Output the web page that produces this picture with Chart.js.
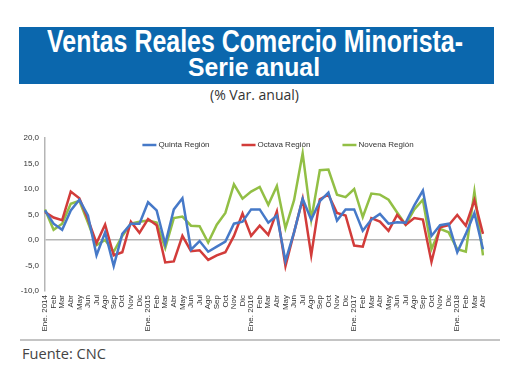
<!DOCTYPE html>
<html><head><meta charset="utf-8">
<script src="https://cdn.jsdelivr.net/npm/chart.js@4"></script>
<style>
html,body{margin:0;padding:0;background:#fff;width:520px;height:390px;overflow:hidden;position:relative;}
#banner{position:absolute;left:19px;top:27px;width:475px;height:57px;background:#0b67ad;}
.fit{position:absolute;white-space:nowrap;display:inline-block;transform-origin:0 0;}
#t1,#t2{color:#fff;font-family:"Liberation Sans Narrow","Liberation Sans",Arial,sans-serif;font-weight:bold;line-height:1;}
#t1{font-size:32px;top:25px;}
#t2{font-size:26px;top:54px;}
#sub{font-family:"Open Sans","Noto Sans",sans-serif;font-weight:400;font-size:14px;line-height:14px;color:#333;top:88px;}
#rule{position:absolute;left:20px;top:339px;width:480px;height:2px;background:#c4c4c4;}
#src{position:absolute;left:22px;top:345px;font-family:"Open Sans","Noto Sans",sans-serif;font-weight:400;font-size:15px;line-height:16px;color:#444;}
#wrap{position:absolute;left:0;top:125px;width:520px;height:214px;}
</style></head>
<body>
<div id="banner"></div>
<span id="t1" class="fit" data-w="416" data-cx="255">Ventas Reales Comercio Minorista-</span>
<span id="t2" class="fit" data-w="132" data-cx="254">Serie anual</span>
<span id="sub" class="fit" data-w="89" data-cx="254">(% Var. anual)</span>
<div id="rule"></div>
<div id="src" class="fit" data-w="84" data-left="22">Fuente: CNC</div>
<div id="wrap"><canvas id="c"></canvas></div>
<script>
const categories = ['Ene. 2014','Feb','Mar','Abr','May','Jun','Jul','Ago','Sep','Oct','Nov','Dic',
  'Ene. 2015','Feb','Mar','Abr','May','Jun','Jul','Ago','Sep','Oct','Nov','Dic',
  'Ene. 2016','Feb','Mar','Abr','May','Jun','Jul','Ago','Sep','Oct','Nov','Dic',
  'Ene. 2017','Feb','Mar','Abr','May','Jun','Jul','Ago','Sep','Oct','Nov','Dic',
  'Ene. 2018','Feb','Mar','Abr'];
const quinta = [5.8,3.2,2.0,5.8,7.9,4.8,-3.0,1.5,-5.1,1.2,3.2,3.2,
  7.4,5.8,-0.8,6.0,8.2,-1.9,-0.2,-2.3,-1.3,-0.3,3.2,3.6,
  6.0,6.0,3.4,4.8,-4.1,1.5,8.1,4.0,7.6,9.3,3.8,6.0,
  6.0,1.8,4.0,5.1,3.2,3.5,3.4,6.8,9.7,0.8,2.9,3.2,
  -2.4,1.2,5.3,-1.8];
const octava = [5.5,4.4,3.9,9.5,8.2,4.1,-0.6,3.0,-3.0,-2.4,3.6,1.4,
  4.1,2.9,-4.4,-4.2,0.8,-2.2,-2.0,-3.9,-3.0,-2.4,0.8,5.2,
  0.8,2.8,1.0,5.6,-5.1,1.5,8.1,-3.0,8.0,8.9,5.3,4.8,
  -1.1,-1.3,4.3,3.6,1.8,4.9,3.0,4.3,4.0,-4.3,2.5,2.9,
  4.9,2.8,7.8,1.2];
const novena = [6.0,2.0,3.2,7.1,7.7,3.4,-1.0,0.0,-2.3,0.8,3.2,3.6,
  3.8,3.4,-1.6,4.3,4.6,2.8,2.7,-0.5,3.0,5.3,10.9,8.1,
  9.5,10.4,6.9,10.6,2.3,7.8,17.0,4.0,13.7,13.8,8.9,8.4,
  10.0,4.5,9.1,8.9,7.9,5.4,3.0,6.0,7.9,-1.8,2.2,1.5,
  -1.8,-2.3,9.5,-3.0];
const seriesNames = ['Quinta Región','Octava Región','Novena Región'];
const yTicks = [-10,-5,0,5,10,15,20];

// fit texts horizontally
document.querySelectorAll('.fit').forEach(el=>{
  const w = el.getBoundingClientRect().width;
  const tw = +el.dataset.w;
  const s = tw / w;
  if (el.dataset.left) el.style.left = el.dataset.left + 'px';
  else el.style.left = (+el.dataset.cx - tw/2) + 'px';
  el.style.transform = 'scaleX(' + s + ')';
});

const colors = ['#4679c8','#d23c3a','#92bf45'];
const legendPlugin = {
  id:'legendOverlay',
  afterDraw(chart){
    const ctx = chart.ctx;
    ctx.save();
    ctx.font = '8px "Liberation Sans", Arial, sans-serif';
    ctx.textBaseline = 'middle';
    const lineLen = 14, gapT = 2, gapI = 32;
    const widths = seriesNames.map(n=>ctx.measureText(n).width);
    const total = widths.reduce((a,b)=>a+b,0) + 3*(lineLen+gapT) + 2*gapI;
    let x = 278 - total/2;
    const y = chart.chartArea.top + 7;
    seriesNames.forEach((n,i)=>{
      ctx.strokeStyle = colors[i]; ctx.lineWidth = 2.5;
      ctx.beginPath(); ctx.moveTo(x,y); ctx.lineTo(x+lineLen,y); ctx.stroke();
      x += lineLen + gapT;
      ctx.fillStyle = '#333';
      ctx.fillText(n, x, y);
      x += widths[i] + gapI;
    });
    ctx.restore();
  }
};

new Chart(document.getElementById('c'), {
  type:'line',
  data:{
    labels: categories,
    datasets:[quinta,octava,novena].map((d,i)=>({
      label: seriesNames[i], data: d, borderColor: colors[i], backgroundColor: colors[i],
      borderWidth: 2.5, pointRadius: 0, tension: 0, fill:false
    }))
  },
  options:{
    responsive:true, maintainAspectRatio:false, animation:false,
    layout:{padding:{left:0,right:37,top:13,bottom:0}},
    plugins:{legend:{display:false}, tooltip:{enabled:false}},
    scales:{
      x:{
        offset:false,
        grid:{display:false, drawTicks:false},
        border:{display:false},
        ticks:{autoSkip:false, maxRotation:90, minRotation:90, padding:4,
          color:'#333', font:{family:'"Liberation Sans", Arial, sans-serif', size:8}},
        afterFit(s){ s.height = 48; }
      },
      y:{
        min:-10, max:20,
        afterBuildTicks(s){ s.ticks = yTicks.map(v=>({value:v})); },
        grid:{drawTicks:false, color:(c)=> c.tick && c.tick.value===0 ? '#b5b5b5' : 'rgba(0,0,0,0)', lineWidth:1.5},
        border:{display:true, color:'#b5b5b5', width:1.5},
        ticks:{padding:6, color:'#333', font:{family:'"Liberation Sans", Arial, sans-serif', size:8},
          callback:(v)=> v.toFixed(1).replace('.',',')},
        afterFit(s){ s.width = 45; }
      }
    }
  },
  plugins:[legendPlugin]
});
</script>
</body></html>
